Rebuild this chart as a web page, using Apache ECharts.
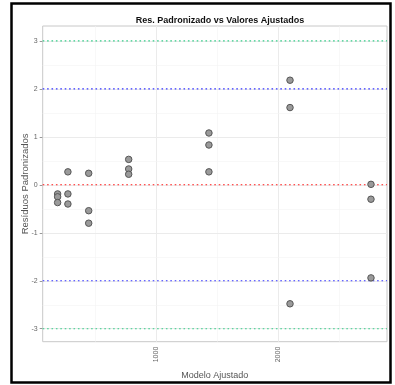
<!DOCTYPE html>
<html><head><meta charset="utf-8">
<script src="https://cdn.jsdelivr.net/npm/echarts@6/dist/echarts.min.js"></script>
<style>html,body{margin:0;padding:0;background:#fff}#c{width:395px;height:385px}</style>
</head><body><div id="c"></div>
<script>
var fitted = [196, 196, 196, 280, 280, 280, 450, 450, 450, 777, 777, 777, 1433, 1433, 1433, 2096, 2096, 2096, 2758, 2758, 2758];
var residuals = [-0.19, -0.25, -0.37, 0.27, -0.19, -0.40, 0.24, -0.54, -0.80, 0.53, 0.33, 0.22, 1.08, 0.83, 0.27, 2.18, 1.61, -2.48, 0.01, -0.30, -1.94];
var xTicks = [1000, 2000];
var yTicks = [-3, -2, -1, 0, 1, 2, 3];
var xMinorGrid = [500, 1500, 2500];
var yMinorGrid = [-2.5, -1.5, -0.5, 0.5, 1.5, 2.5];
var xRange = [74, 2889];
var yRange = [-3.27, 3.31];
var refLevels = [3, -3, 2, -2, 0];
var refColors = ['#33cc88', '#33cc88', '#3333ff', '#3333ff', '#ff1a1a'];

var font = 'Liberation Sans, Arial, sans-serif';
var chart = echarts.init(document.getElementById('c'));
var gridLines = [];
xTicks.forEach(function(v){ gridLines.push({xAxis: v, lineStyle:{color:'#ebebeb', width:1, type:'solid'}}); });
xMinorGrid.forEach(function(v){ gridLines.push({xAxis: v, lineStyle:{color:'#f4f4f4', width:0.6, type:'solid'}}); });
yTicks.forEach(function(v){ gridLines.push({yAxis: v, lineStyle:{color:'#ebebeb', width:1, type:'solid'}}); });
yMinorGrid.forEach(function(v){ gridLines.push({yAxis: v, lineStyle:{color:'#f4f4f4', width:0.6, type:'solid'}}); });

var series = [
  {type: 'scatter', data: [], silent: true, z: 1,
   markLine: {silent: true, symbol: 'none', label: {show: false}, animation: false, data: gridLines}}
];
refLevels.forEach(function(lv, i){
  series.push({type: 'line', silent: true, z: 5, showSymbol: false, symbol: 'none',
    color: refColors[i],
    lineStyle: {color: refColors[i], width: 1.1, type: [1.6, 2.8], opacity: 1},
    data: [[xRange[0], lv], [xRange[1], lv]]});
});
series.push({type: 'scatter', z: 8, symbolSize: 6.5,
  itemStyle: {color: '#9a9a9a', borderColor: '#555', borderWidth: 1, opacity: 1},
  data: fitted.map(function(x, i){ return [x, residuals[i]]; })});

chart.setOption({
  animation: false,
  title: {
    text: 'Res. Padronizado vs Valores Ajustados',
    left: 215, top: 11, textAlign: 'center',
    textStyle: {fontFamily: font, fontSize: 9, fontWeight: 'bold', color: '#111'}
  },
  grid: {left: 42.7, right: 8, top: 26, bottom: 43.3, show: true, borderColor: '#c8c8c8', borderWidth: 1, backgroundColor: 'transparent'},
  xAxis: {
    type: 'value', min: xRange[0], max: xRange[1],
    name: 'Modelo Ajustado', nameLocation: 'middle', nameGap: 29, nameMoveOverlap: false,
    nameTextStyle: {fontFamily: font, fontSize: 9, color: '#555'},
    axisLine: {show: false},
    axisTick: {show: true, length: 3, customValues: xTicks, lineStyle: {color: '#999'}},
    axisLabel: {customValues: xTicks, rotate: 90, margin: 5, fontFamily: font, fontSize: 7, color: '#666',
      formatter: function(v){ return String(v); }},
    splitLine: {show: false}
  },
  yAxis: {
    type: 'value', min: yRange[0], max: yRange[1],
    name: 'Resíduos Padronizados', nameLocation: 'middle', nameGap: 12, nameMoveOverlap: false,
    nameTextStyle: {fontFamily: font, fontSize: 9.5, color: '#555'},
    axisLine: {show: false},
    axisTick: {show: true, length: 3, customValues: yTicks, lineStyle: {color: '#999'}},
    axisLabel: {customValues: yTicks, margin: 5, fontFamily: font, fontSize: 7, color: '#666'},
    splitLine: {show: false}
  },
  series: series,
  graphic: [{type: 'rect', shape: {x: 11.5, y: 3.5, width: 379, height: 379}, style: {fill: 'none', stroke: '#000', lineWidth: 2.5}}]
});
</script></body></html>
